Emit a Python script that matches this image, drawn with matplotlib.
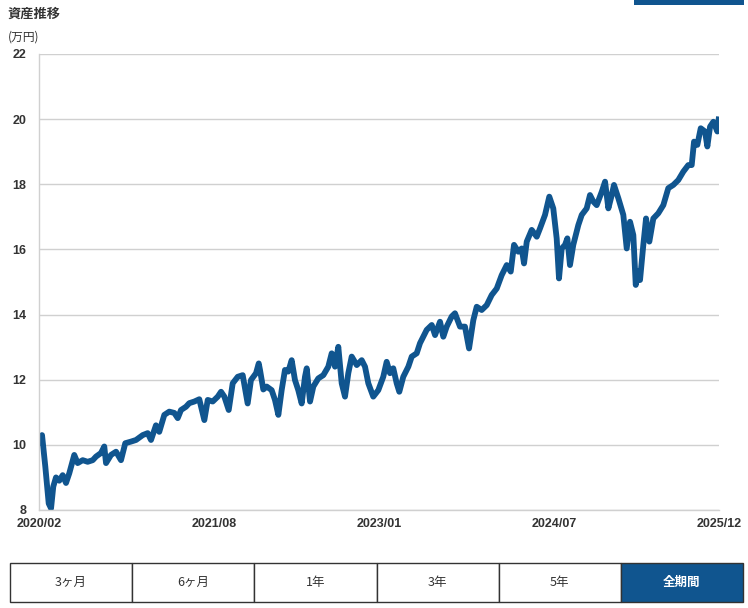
import matplotlib
matplotlib.use('Agg')
import matplotlib.pyplot as plt
from matplotlib.patches import Rectangle

plt.rcParams['font.family'] = ['Liberation Sans', 'Noto Sans CJK JP', 'DejaVu Sans']

# 経過月数 (2020/02 = 0) と評価額 (万円)
months = [0.0, 0.31, 0.65, 1.0, 1.24, 1.47, 1.75, 2.09, 2.44, 2.78, 3.12, 3.63, 3.98, 4.5, 5.01,
          5.53, 5.87, 6.38, 6.72, 6.9, 7.41, 7.93, 8.44, 8.88, 9.47, 9.99, 10.68, 11.19, 11.53,
          12.04, 12.38, 12.9, 13.41, 13.93, 14.28, 14.62, 15.13, 15.47, 15.99, 16.5, 17.02,
          17.37, 17.88, 18.4, 18.74, 19.08, 19.53, 19.94, 20.46, 20.97, 21.48, 21.82, 22.34,
          22.62, 22.75, 23.09, 23.44, 23.95, 24.29, 24.64, 24.98, 25.32, 25.66, 26.01, 26.35,
          26.69, 27.04, 27.38, 27.56, 27.9, 28.24, 28.75, 29.27, 29.78, 30.13, 30.47, 30.81,
          31.16, 31.5, 31.84, 32.19, 32.71, 33.22, 33.56, 33.9, 34.41, 34.93, 35.44, 35.79,
          36.13, 36.47, 36.82, 37.09, 37.5, 38.02, 38.37, 38.88, 39.22, 39.56, 39.91, 40.43,
          40.77, 41.28, 41.62, 41.97, 42.48, 42.82, 43.34, 43.85, 44.27, 44.71, 45.06, 45.57,
          46.09, 46.6, 47.12, 47.63, 48.15, 48.56, 48.9, 49.34, 49.69, 49.93, 50.21, 50.72,
          51.24, 51.58, 52.09, 52.53, 52.94, 53.29, 53.53, 53.81, 54.15, 54.39, 54.66, 55.0,
          55.52, 55.87, 56.38, 56.72, 57.06, 57.41, 57.93, 58.27, 58.61, 58.96, 59.19, 59.64,
          60.15, 60.5, 60.84, 61.18, 61.43, 61.7, 61.87, 62.21, 62.49, 62.83, 63.24, 63.75,
          64.27, 64.78, 65.3, 65.81, 66.33, 66.84, 67.19, 67.43, 67.77, 68.12, 68.56, 68.8,
          69.08, 69.42, 69.83, 70.0]
values = [10.0, 10.3, 9.33, 8.2, 8.05, 8.72, 9.0, 8.9, 9.07, 8.83, 9.13, 9.69, 9.44, 9.53, 9.48,
          9.53, 9.64, 9.75, 9.95, 9.44, 9.69, 9.79, 9.53, 10.05, 10.1, 10.15, 10.3, 10.36, 10.15,
          10.6, 10.4, 10.92, 11.02, 10.98, 10.82, 11.07, 11.17, 11.28, 11.33, 11.4, 10.76,
          11.38, 11.33, 11.48, 11.63, 11.48, 11.07, 11.89, 12.09, 12.14, 11.27, 11.99, 12.2,
          12.5, 12.3, 11.7, 11.79, 11.68, 11.38, 10.92, 11.68, 12.3, 12.25, 12.6, 11.99,
          11.68, 11.27, 12.09, 12.35, 11.33, 11.79, 12.04, 12.14, 12.4, 12.81, 12.4, 13.01,
          11.89, 11.48, 12.2, 12.71, 12.45, 12.6, 12.4, 11.89, 11.48, 11.68, 12.09, 12.55,
          12.2, 12.35, 11.89, 11.63, 12.09, 12.4, 12.71, 12.81, 13.12, 13.32, 13.53, 13.68,
          13.37, 13.78, 13.32, 13.63, 13.94, 14.04, 13.63, 13.63, 12.96, 13.83, 14.24, 14.14,
          14.29, 14.6, 14.8, 15.21, 15.52, 15.32, 16.14, 15.93, 16.03, 15.57, 16.24, 16.6,
          16.39, 16.65, 17.06, 17.62, 17.26, 16.34, 15.11, 16.03, 16.14, 16.34, 15.52, 16.14,
          16.75, 17.06, 17.26, 17.67, 17.47, 17.36, 17.77, 18.08, 17.26, 17.67, 17.98, 17.57,
          17.06, 16.03, 16.85, 16.44, 14.91, 15.32, 15.06, 16.14, 16.95, 16.24, 16.95, 17.11,
          17.36, 17.88, 17.98, 18.13, 18.39, 18.59, 18.59, 19.31, 19.21, 19.72, 19.62, 19.16,
          19.77, 19.92, 19.62, 20.08]

tick_months = [0, 18, 35, 53, 70]
tick_labels = ['2020/02', '2021/08', '2023/01', '2024/07', '2025/12']
y_ticks = [8, 10, 12, 14, 16, 18, 20, 22]
periods = ['3ヶ月', '6ヶ月', '1年', '3年', '5年', '全期間']
selected = '全期間'

blue = '#10558f'
grid_c = '#d0d0d0'
text_c = '#333333'

fig = plt.figure(figsize=(7.48, 6.08), dpi=100)

ax = fig.add_axes([39 / 748, 1 - 510 / 608, 680 / 748, 456 / 608])
ax.plot(months, values, color=blue, linewidth=4.2, solid_joinstyle='round',
        solid_capstyle='butt')
ax.set_xlim(0, 70)
ax.set_ylim(8, 22)
ax.set_yticks(y_ticks)
ax.set_xticks(tick_months)
ax.set_xticklabels(tick_labels)
ax.grid(axis='y', color=grid_c, linewidth=1)
ax.set_axisbelow(True)
for side in ['top', 'right']:
    ax.spines[side].set_visible(False)
for side in ['left', 'bottom']:
    ax.spines[side].set_color(grid_c)
    ax.spines[side].set_linewidth(1)
ax.tick_params(length=0, labelsize=9, labelcolor=text_c)
ax.tick_params(axis='y', pad=9)
ax.tick_params(axis='x', pad=6)
for lab in ax.get_xticklabels() + ax.get_yticklabels():
    lab.set_fontweight('bold')

fig.text(8 / 748, 1 - 14 / 608, '資産推移', fontsize=9.5, fontweight='bold', color=text_c,
         va='center', ha='left', family=['Noto Sans CJK JP', 'DejaVu Sans'])
fig.text(8 / 748, 1 - 37 / 608, '(万円)', fontsize=8.5, color=text_c,
         va='center', ha='left', family=['Noto Sans CJK JP', 'DejaVu Sans'])

# 右上の帯
fig.add_artist(Rectangle((634 / 748, 1 - 5 / 608), 110 / 748, 5 / 608,
                         transform=fig.transFigure, facecolor=blue, edgecolor='none'))

# 期間ボタン
bax = fig.add_axes([10 / 748, 1 - 602 / 608, 733 / 748, 39 / 608])
bax.set_xlim(0, len(periods))
bax.set_ylim(0, 1)
bax.axis('off')
for i, p in enumerate(periods):
    on = p == selected
    bax.add_patch(Rectangle((i, 0), 1, 1, facecolor=blue if on else 'white',
                            edgecolor='#333333', linewidth=1, clip_on=False))
    bax.text(i + 0.5, 0.5, p, ha='center', va='center', fontsize=9,
             color='white' if on else text_c, fontweight='bold' if on else 'normal',
             family=['Noto Sans CJK JP', 'DejaVu Sans'])

fig.savefig('out.png', dpi=100)
